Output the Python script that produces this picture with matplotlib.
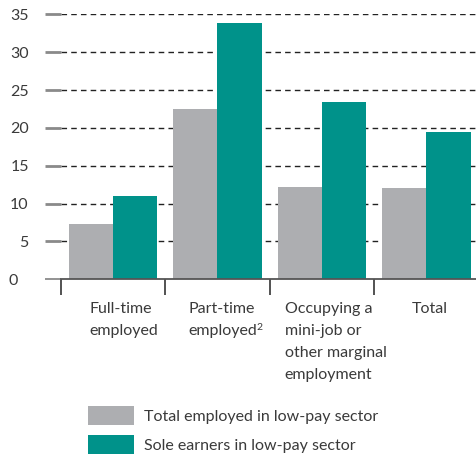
import matplotlib
matplotlib.use("Agg")
import matplotlib.pyplot as plt
import matplotlib.transforms as mtransforms
import numpy as np

plt.rcParams['font.family'] = ['Lato', 'DejaVu Sans']

categories = ["Full-time\nemployed", "Part-time\nemployed",
              "Occupying a\nmini-job or\nother marginal\nemployment", "Total"]
footnotes = ["", "2", "", ""]
total_employed = [7.3, 22.5, 12.2, 12.1]
sole_earners = [11.0, 33.8, 23.4, 19.5]
series_labels = ["Total employed in low-pay sector", "Sole earners in low-pay sector"]
yticks = [0, 5, 10, 15, 20, 25, 30, 35]

gray = '#adaeb1'
teal = '#00928a'
text_col = '#3a3a3a'

W, H = 476, 454
fig = plt.figure(figsize=(W / 100, H / 100), dpi=100)
ax = fig.add_axes([60.7 / W, (H - 279.3) / H, 418 / W, (279.3 - 14.3) / H])

x = np.arange(len(categories))
w = 0.425
b1 = ax.bar(x - w / 2, total_employed, w, color=gray, zorder=3)
b2 = ax.bar(x + w / 2, sole_earners, w, color=teal, zorder=3)

ax.set_xlim(-0.5, 3.5)
ax.set_ylim(0, 35)

# dashed grid
for yv in yticks[1:]:
    ax.axhline(yv, color='#222222', lw=1.0, ls=(0, (4, 3)), zorder=1)

for s in ['left', 'right', 'top']:
    ax.spines[s].set_visible(False)
ax.spines['bottom'].set_color('#555555')
ax.spines['bottom'].set_linewidth(1.3)
ax.spines['bottom'].set_zorder(4)

ax.set_yticks(yticks)
ax.set_yticklabels([str(v) for v in yticks], fontsize=11.5, color=text_col)
ax.tick_params(axis='y', length=11.5, width=2.0, color='#8a8a8a', pad=11.5)
ax.yaxis.get_major_ticks()[0].tick1line.set_color('#555555')
ax.yaxis.get_major_ticks()[0].tick1line.set_markeredgewidth(1.3)
# the zero label sits a bit further left in the original
lab0 = ax.get_yticklabels()[0]
lab0.set_transform(lab0.get_transform() + mtransforms.ScaledTranslation(-11 / 100, 0, fig.dpi_scale_trans))

# category separators
ax.set_xticks([])
ax.set_xticks(np.arange(-0.5, 4.0, 1.0), minor=True)
ax.tick_params(axis='x', which='minor', length=11.5, width=1.3, color='#444444')

trans = mtransforms.blended_transform_factory(ax.transData, ax.transAxes)
offsets = [0.1, 0.05, 0.13, 0.03]
cat_texts = []
for i, lab in enumerate(categories):
    t = ax.text(i + offsets[i], -0.085, lab, transform=trans, ha='center', va='top',
                multialignment='left', fontsize=11.5, color=text_col, linespacing=1.72)
    cat_texts.append(t)

# superscript footnote markers after the last line
fig.canvas.draw()
renderer = fig.canvas.get_renderer()
for t, fn in zip(cat_texts, footnotes):
    if not fn:
        continue
    bb = t.get_window_extent(renderer)
    nlines = t.get_text().count("\n") + 1
    line_h = bb.height / nlines
    fig.text((bb.x1 - 1) / W, (bb.y0 + line_h * 0.8) / H, fn, fontsize=7.5,
             color=text_col, ha='left', va='top')

fig.legend([b1, b2], series_labels, loc='upper left',
           bbox_to_anchor=(88 / W, (H - 406) / H), frameon=False,
           fontsize=11.5, labelcolor=text_col, handlelength=2.9, handleheight=1.5,
           handletextpad=0.6, labelspacing=0.6, borderpad=0, borderaxespad=0)

fig.savefig("out.png", dpi=100)
